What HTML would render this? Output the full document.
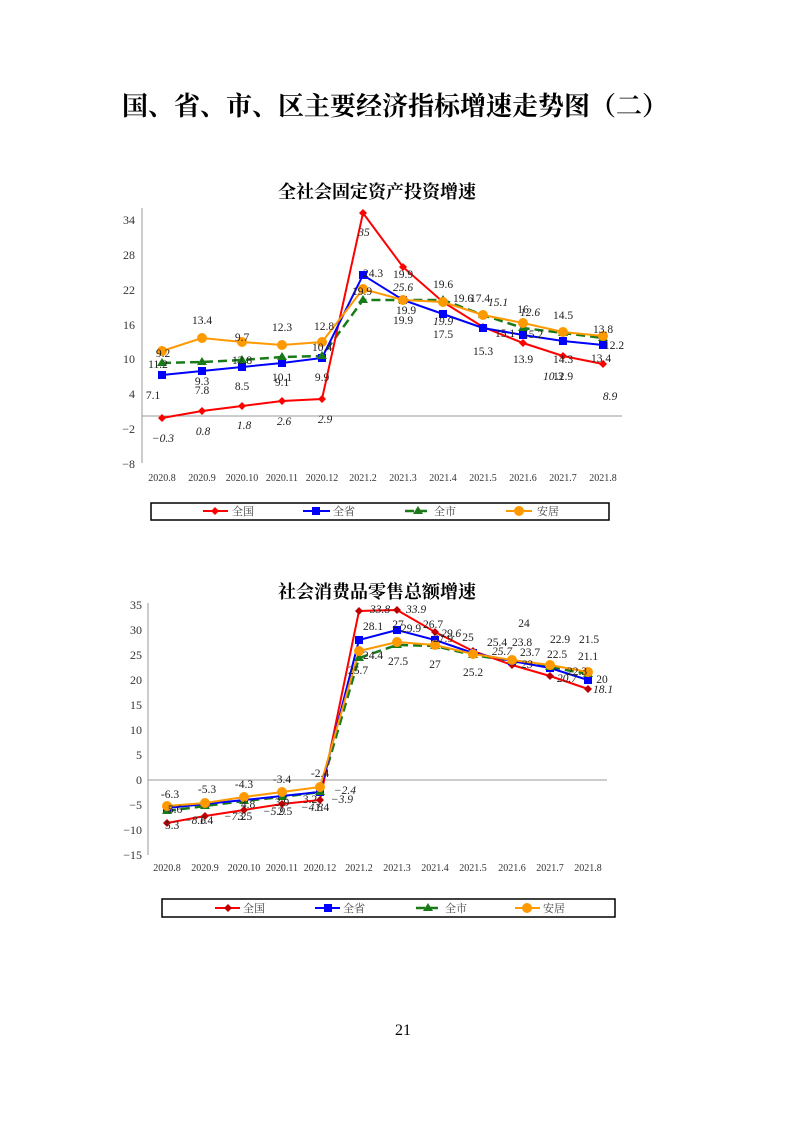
<!DOCTYPE html>
<html><head><meta charset="utf-8"><style>
body{margin:0;background:#fff}
svg{display:block}
text{font-family:"Liberation Serif","Noto Serif CJK SC",serif}
.t{font-size:11.5px;fill:#222}
.i{font-style:italic}
.ax{font-size:12px;fill:#333}
.xl{font-size:10px;fill:#333}
</style></head><body>
<svg width="793" height="1122" viewBox="0 0 793 1122" xmlns="http://www.w3.org/2000/svg">
<text x="395" y="115" text-anchor="middle" font-size="26" font-weight="bold" font-family="Noto Sans CJK SC,sans-serif" fill="#000">国、省、市、区主要经济指标增速走势图（二）</text>

<!-- Chart 1 -->
<text x="377" y="198" text-anchor="middle" font-size="18" font-weight="bold" font-family="Noto Serif CJK SC,serif">全社会固定资产投资增速</text>
<line x1="142" y1="208" x2="142" y2="463" stroke="#999"/>
<line x1="142" y1="416" x2="622" y2="416" stroke="#999"/>
<g class="ax" text-anchor="end">
<text x="135" y="224">34</text><text x="135" y="259">28</text><text x="135" y="294">22</text><text x="135" y="329">16</text><text x="135" y="363">10</text><text x="135" y="398">4</text><text x="135" y="433">−2</text><text x="135" y="468">−8</text>
</g>
<g class="xl" text-anchor="middle">
<text x="162" y="481">2020.8</text><text x="202" y="481">2020.9</text><text x="242" y="481">2020.10</text><text x="282" y="481">2020.11</text><text x="322" y="481">2020.12</text><text x="363" y="481">2021.2</text><text x="403" y="481">2021.3</text><text x="443" y="481">2021.4</text><text x="483" y="481">2021.5</text><text x="523" y="481">2021.6</text><text x="563" y="481">2021.7</text><text x="603" y="481">2021.8</text>
</g>
<polyline fill="none" stroke="#1a7a1a" stroke-width="2.5" stroke-dasharray="9,5" points="162,363 202,362 242,360 282,357 322,356 363,300 403,300 443,300 483,315 523,328 563,333 603,338"/>
<polyline fill="none" stroke="#f00" stroke-width="2" points="162,418 202,411 242,406 282,401 322,399 363,213 403,267 443,302 483,327 523,343 563,356 603,364"/>
<polyline fill="none" stroke="#00f" stroke-width="2" points="162,375 202,371 242,367 282,363 322,358 363,275 403,300 443,314 483,328 523,335 563,341 603,345"/>
<polyline fill="none" stroke="#f90" stroke-width="2" points="162,351 202,338 242,342 282,345 322,342 363,289 403,300 443,302 483,315 523,323 563,332 603,336"/>
<g fill="#f00"><path d="M162,414l4,4-4,4-4-4z M202,407l4,4-4,4-4-4z M242,402l4,4-4,4-4-4z M282,397l4,4-4,4-4-4z M322,395l4,4-4,4-4-4z M363,209l4,4-4,4-4-4z M403,263l4,4-4,4-4-4z M443,298l4,4-4,4-4-4z M483,323l4,4-4,4-4-4z M523,339l4,4-4,4-4-4z M563,352l4,4-4,4-4-4z M603,360l4,4-4,4-4-4z"/></g>
<g fill="#00f"><rect x="158" y="371" width="8" height="8"/><rect x="198" y="367" width="8" height="8"/><rect x="238" y="363" width="8" height="8"/><rect x="278" y="359" width="8" height="8"/><rect x="318" y="354" width="8" height="8"/><rect x="359" y="271" width="8" height="8"/><rect x="399" y="296" width="8" height="8"/><rect x="439" y="310" width="8" height="8"/><rect x="479" y="324" width="8" height="8"/><rect x="519" y="331" width="8" height="8"/><rect x="559" y="337" width="8" height="8"/><rect x="599" y="341" width="8" height="8"/></g>
<g fill="#1a7a1a"><path d="M162,358l5,8h-10z M202,357l5,8h-10z M242,355l5,8h-10z M282,352l5,8h-10z M322,351l5,8h-10z M363,295l5,8h-10z M403,295l5,8h-10z M443,295l5,8h-10z M483,310l5,8h-10z M523,323l5,8h-10z M563,328l5,8h-10z M603,333l5,8h-10z"/></g>
<g fill="#f90"><circle cx="162" cy="351" r="5"/><circle cx="202" cy="338" r="5"/><circle cx="242" cy="342" r="5"/><circle cx="282" cy="345" r="5"/><circle cx="322" cy="342" r="5"/><circle cx="363" cy="289" r="5"/><circle cx="403" cy="300" r="5"/><circle cx="443" cy="302" r="5"/><circle cx="483" cy="315" r="5"/><circle cx="523" cy="323" r="5"/><circle cx="563" cy="332" r="5"/><circle cx="603" cy="336" r="5"/></g>
<g class="t" text-anchor="middle">
<text x="163" y="357">9.2</text><text x="202" y="324">13.4</text><text x="242" y="341">9.7</text><text x="282" y="331">12.3</text><text x="324" y="330">12.8</text>
<text x="158" y="368">11.2</text><text x="242" y="364">12.8</text><text x="322" y="351">10.4</text>
<text x="202" y="385">9.3</text><text x="202" y="394">7.8</text><text x="242" y="390">8.5</text><text x="282" y="381">10.1</text><text x="282" y="386">9.1</text><text x="322" y="381">9.9</text><text x="153" y="399">7.1</text>
<text x="373" y="277">24.3</text><text x="362" y="295">19.9</text><text x="403" y="278">19.9</text><text x="406" y="314">19.9</text><text x="403" y="324">19.9</text>
<text x="443" y="288">19.6</text><text x="443" y="338">17.5</text><text x="463" y="302">19.6</text><text x="480" y="302">17.4</text>
<text x="483" y="355">15.3</text><text x="523" y="363">13.9</text><text x="563" y="380">12.9</text><text x="563" y="363">14.3</text><text x="601" y="362">13.4</text>
<text x="563" y="319">14.5</text><text x="523" y="313">16</text><text x="603" y="333">13.8</text><text x="614" y="349">12.2</text><text x="505" y="337">15.1</text><text x="533" y="338">15.2</text>
</g>
<g class="t i" text-anchor="middle">
<text x="163" y="442">−0.3</text><text x="203" y="435">0.8</text><text x="244" y="429">1.8</text><text x="284" y="425">2.6</text><text x="325" y="423">2.9</text>
<text x="364" y="236">35</text><text x="403" y="291">25.6</text><text x="443" y="325">19.9</text><text x="498" y="306">15.1</text><text x="530" y="316">12.6</text><text x="553" y="380">10.3</text><text x="610" y="400">8.9</text>
</g>
<rect x="151" y="503" width="458" height="17" fill="none" stroke="#000" stroke-width="1.5"/>
<g font-size="11" font-family="Noto Sans CJK SC,sans-serif" fill="#444">
<line x1="203" y1="511" x2="228" y2="511" stroke="#f00" stroke-width="2"/><path d="M215,507l4,4-4,4-4-4z" fill="#f00"/><text x="232" y="515">全国</text>
<line x1="303" y1="511" x2="330" y2="511" stroke="#00f" stroke-width="2"/><rect x="312" y="507" width="8" height="8" fill="#00f"/><text x="333" y="515">全省</text>
<line x1="405" y1="511" x2="428" y2="511" stroke="#1a7a1a" stroke-width="2.5" stroke-dasharray="9,4"/><path d="M418,506l5,8h-10z" fill="#1a7a1a"/><text x="434" y="515">全市</text>
<line x1="506" y1="511" x2="532" y2="511" stroke="#f90" stroke-width="2"/><circle cx="519" cy="511" r="5" fill="#f90"/><text x="537" y="515">安居</text>
</g>

<!-- Chart 2 -->
<text x="377" y="598" text-anchor="middle" font-size="18" font-weight="bold" font-family="Noto Serif CJK SC,serif">社会消费品零售总额增速</text>
<line x1="148" y1="603" x2="148" y2="855" stroke="#999"/>
<line x1="148" y1="780" x2="607" y2="780" stroke="#999"/>
<g class="ax" text-anchor="end" font-family="Liberation Sans,sans-serif">
<text x="142" y="609">35</text><text x="142" y="634">30</text><text x="142" y="659">25</text><text x="142" y="684">20</text><text x="142" y="709">15</text><text x="142" y="734">10</text><text x="142" y="759">5</text><text x="142" y="784">0</text><text x="142" y="809">−5</text><text x="142" y="834">−10</text><text x="142" y="859">−15</text>
</g>
<g class="xl" text-anchor="middle">
<text x="167" y="871">2020.8</text><text x="205" y="871">2020.9</text><text x="244" y="871">2020.10</text><text x="282" y="871">2020.11</text><text x="320" y="871">2020.12</text><text x="359" y="871">2021.2</text><text x="397" y="871">2021.3</text><text x="435" y="871">2021.4</text><text x="473" y="871">2021.5</text><text x="512" y="871">2021.6</text><text x="550" y="871">2021.7</text><text x="588" y="871">2021.8</text>
</g>
<polyline fill="none" stroke="#1a7a1a" stroke-width="2.5" stroke-dasharray="9,5" points="167,811 205,806 244,801 282,797 320,792 359,658 397,645 435,646 473,655 512,661 550,667 588,674"/>
<polyline fill="none" stroke="#f00" stroke-width="2" points="167,823 205,816 244,810 282,804 320,800 359,611 397,610 435,632 473,651 512,665 550,676 588,689"/>
<polyline fill="none" stroke="#00f" stroke-width="2" points="167,808 205,804 244,800 282,796 320,792 359,640 397,630 435,640 473,653 512,661 550,668 588,680"/>
<polyline fill="none" stroke="#f90" stroke-width="2" points="167,806 205,803 244,797 282,792 320,787 359,651 397,642 435,645 473,654 512,660 550,665 588,672"/>
<g fill="#c00000"><path d="M167,819l4,4-4,4-4-4z M205,812l4,4-4,4-4-4z M244,806l4,4-4,4-4-4z M282,800l4,4-4,4-4-4z M320,796l4,4-4,4-4-4z M359,607l4,4-4,4-4-4z M397,606l4,4-4,4-4-4z M435,628l4,4-4,4-4-4z M473,647l4,4-4,4-4-4z M512,661l4,4-4,4-4-4z M550,672l4,4-4,4-4-4z M588,685l4,4-4,4-4-4z"/></g>
<g fill="#00f"><rect x="163" y="804" width="8" height="8"/><rect x="201" y="800" width="8" height="8"/><rect x="240" y="796" width="8" height="8"/><rect x="278" y="792" width="8" height="8"/><rect x="316" y="788" width="8" height="8"/><rect x="355" y="636" width="8" height="8"/><rect x="393" y="626" width="8" height="8"/><rect x="431" y="636" width="8" height="8"/><rect x="469" y="649" width="8" height="8"/><rect x="508" y="657" width="8" height="8"/><rect x="546" y="664" width="8" height="8"/><rect x="584" y="676" width="8" height="8"/></g>
<g fill="#1a7a1a"><path d="M167,806l5,8h-10z M205,801l5,8h-10z M244,796l5,8h-10z M282,792l5,8h-10z M320,787l5,8h-10z M359,653l5,8h-10z M397,640l5,8h-10z M435,641l5,8h-10z M473,650l5,8h-10z M512,656l5,8h-10z M550,662l5,8h-10z M588,669l5,8h-10z"/></g>
<g fill="#f90"><circle cx="167" cy="806" r="5"/><circle cx="205" cy="803" r="5"/><circle cx="244" cy="797" r="5"/><circle cx="282" cy="792" r="5"/><circle cx="320" cy="787" r="5"/><circle cx="359" cy="651" r="5"/><circle cx="397" cy="642" r="5"/><circle cx="435" cy="645" r="5"/><circle cx="473" cy="654" r="5"/><circle cx="512" cy="660" r="5"/><circle cx="550" cy="665" r="5"/><circle cx="588" cy="672" r="5"/></g>
<g class="t" text-anchor="middle">
<text x="170" y="798">-6.3</text><text x="207" y="793">-5.3</text><text x="244" y="788">-4.3</text><text x="282" y="783">-3.4</text><text x="320" y="777">-2.4</text>
<text x="172" y="829">5.3</text><text x="206" y="824">1.4</text><text x="245" y="820">3.5</text><text x="285" y="815">2.5</text><text x="322" y="811">1.4</text>
<text x="175" y="813">5.6</text><text x="248" y="808">4.8</text><text x="282" y="806">3.9</text><text x="310" y="803">3.2</text>
<text x="358" y="674">25.7</text><text x="373" y="659">24.4</text><text x="373" y="630">28.1</text><text x="398" y="628">27</text><text x="398" y="665">27.5</text><text x="411" y="632">29.9</text><text x="433" y="628">26.7</text>
<text x="435" y="668">27</text><text x="443" y="642">27.9</text><text x="468" y="641">25</text><text x="473" y="676">25.2</text><text x="497" y="646">25.4</text><text x="522" y="646">23.8</text><text x="524" y="627">24</text>
<text x="530" y="656">23.7</text><text x="560" y="643">22.9</text><text x="557" y="658">22.5</text><text x="589" y="643">21.5</text><text x="588" y="660">21.1</text><text x="602" y="683">20</text><text x="577" y="675">22.3</text>
</g>
<g class="t i" text-anchor="middle">
<text x="380" y="613">33.8</text><text x="416" y="613">33.9</text><text x="451" y="637">29.6</text><text x="502" y="655">25.7</text><text x="527" y="668">23</text><text x="567" y="682">20.7</text><text x="603" y="693">18.1</text>
<text x="345" y="794">−2.4</text><text x="342" y="803">−3.9</text><text x="195" y="824">−8.6</text><text x="235" y="820">−7.2</text><text x="274" y="815">−5.9</text><text x="312" y="811">−4.8</text>
</g>
<rect x="162" y="899" width="453" height="18" fill="none" stroke="#000" stroke-width="1.5"/>
<g font-size="11" font-family="Noto Sans CJK SC,sans-serif" fill="#444">
<line x1="215" y1="908" x2="240" y2="908" stroke="#f00" stroke-width="2"/><path d="M228,904l4,4-4,4-4-4z" fill="#c00000"/><text x="243" y="912">全国</text>
<line x1="315" y1="908" x2="340" y2="908" stroke="#00f" stroke-width="2"/><rect x="324" y="904" width="8" height="8" fill="#00f"/><text x="343" y="912">全省</text>
<line x1="416" y1="908" x2="440" y2="908" stroke="#1a7a1a" stroke-width="2.5" stroke-dasharray="9,4"/><path d="M428,903l5,8h-10z" fill="#1a7a1a"/><text x="445" y="912">全市</text>
<line x1="515" y1="908" x2="540" y2="908" stroke="#f90" stroke-width="2"/><circle cx="527" cy="908" r="5" fill="#f90"/><text x="543" y="912">安居</text>
</g>

<text x="403" y="1035" text-anchor="middle" font-size="16" fill="#000">21</text>
</svg>
</body></html>
